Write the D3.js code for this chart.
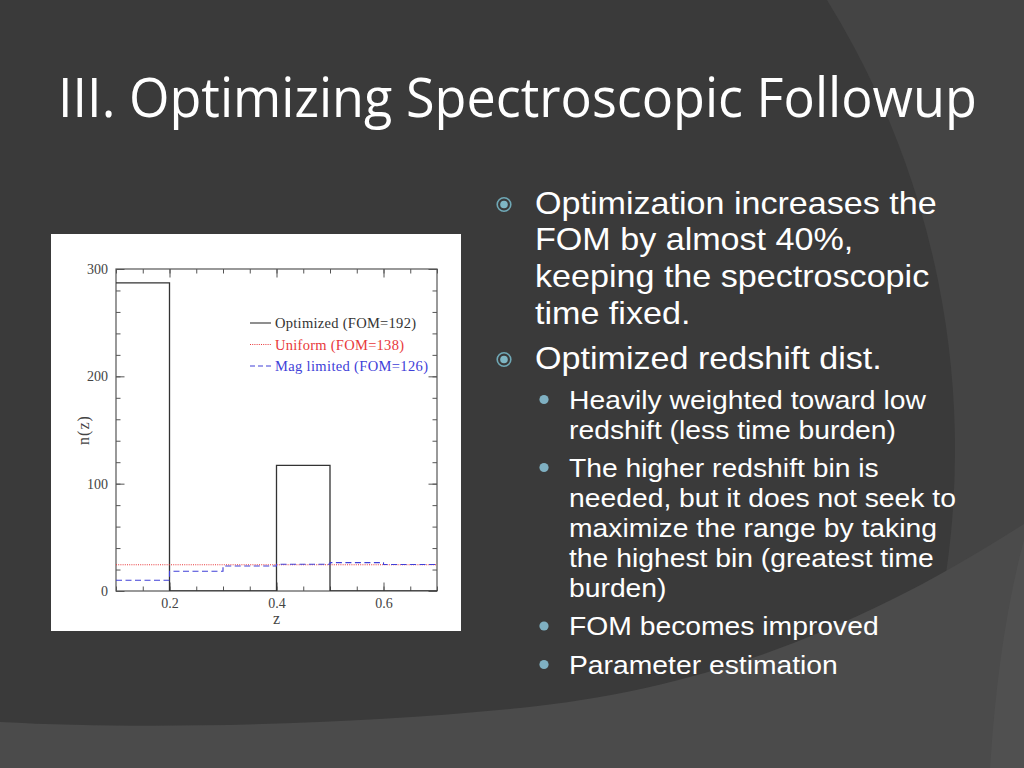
<!DOCTYPE html>
<html>
<head>
<meta charset="utf-8">
<script src="https://cdn.jsdelivr.net/npm/d3@7"></script>
<style>
  html, body { margin: 0; padding: 0; background: #3b3b3b; }
  svg { display: block; }
</style>
</head>
<body>
<svg id="slide" width="1024" height="768"></svg>
<script>
// ---------------- DATA ----------------
const binEdges   = [0.1, 0.2, 0.3, 0.4, 0.5, 0.6, 0.7];
const optimized  = [287, 0, 0, 117, 0, 0];
const uniform    = [24.5, 24.5, 24.5, 24.5, 24.5, 24.5];
const magLimited = [10, 18.4, 23.3, 24.9, 26.4, 24.7];

const xMajorTicks = [0.2, 0.4, 0.6];
const xMinorTicks = [0.1, 0.15, 0.2, 0.25, 0.3, 0.35, 0.4, 0.45, 0.5, 0.55, 0.6, 0.65, 0.7];
const yMajorTicks = [0, 100, 200, 300];
const yMinorTicks = [0, 20, 40, 60, 80, 100, 120, 140, 160, 180, 200, 220, 240, 260, 280, 300];

const legendLabels = ["Optimized (FOM=192)", "Uniform (FOM=138)", "Mag limited (FOM=126)"];

const titleText = "III. Optimizing Spectroscopic Followup";
const bullets = [
  { level: 1, lines: ["Optimization increases the", "FOM by almost 40%,", "keeping the spectroscopic", "time fixed."] },
  { level: 1, lines: ["Optimized redshift dist."] },
  { level: 2, lines: ["Heavily weighted toward low", "redshift (less time burden)"] },
  { level: 2, lines: ["The higher redshift bin is", "needed, but it does not seek to", "maximize the range by taking", "the highest bin (greatest time", "burden)"] },
  { level: 2, lines: ["FOM becomes improved"] },
  { level: 2, lines: ["Parameter estimation"] }
];

// ---------------- SLIDE BACKGROUND ----------------
const svg = d3.select("#slide");
svg.append("rect").attr("width", 1024).attr("height", 768).attr("fill", "#444444");
svg.append("circle").attr("cx", 100).attr("cy", 450).attr("r", 855).attr("fill", "#3a3a3a");
svg.append("path")
  .attr("d", "M0,722 C150,730 350,725 520,708 C700,690 860,630 1024,524 L1024,768 L0,768 Z")
  .attr("fill", "#4b4b4b");
svg.append("path")
  .attr("d", "M1024,540 C1005,610 995,690 990,768 L1024,768 Z")
  .attr("fill", "#505050");

// ---------------- TITLE ----------------
const title = svg.append("text")
  .attr("font-family", "'Open Sans', 'Noto Sans', sans-serif")
  .attr("font-size", 55)
  .attr("fill", "#ffffff")
  .text(titleText);
const tLen = title.node().getComputedTextLength();
title.attr("transform", `translate(58,117) scale(${919 / tLen},1)`);

// ---------------- BULLET TEXT ----------------
const lvl = {
  1: { x: 535, size: 31, lh: 36.7, sx: 1.10, bx: 504, by: -9 },
  2: { x: 569, size: 25.5, lh: 30, sx: 1.11, bx: 544, by: -9 }
};
const startBaselines = [213.5, 368.5, 408.5, 476.5, 635, 673.5];
const textG = svg.append("g");
bullets.forEach((b, i) => {
  const L = lvl[b.level];
  const y0 = startBaselines[i];
  if (b.level === 1) {
    textG.append("circle").attr("cx", L.bx).attr("cy", y0 + L.by)
      .attr("r", 6.8).attr("fill", "none").attr("stroke", "#6fa8b6").attr("stroke-width", 1.6);
    textG.append("circle").attr("cx", L.bx).attr("cy", y0 + L.by)
      .attr("r", 3.8).attr("fill", "#7fb6c4");
  } else {
    textG.append("circle").attr("cx", L.bx).attr("cy", y0 + L.by)
      .attr("r", 4.6).attr("fill", "#7fb0c2");
  }
  b.lines.forEach((line, j) => {
    textG.append("text")
      .attr("transform", `translate(${L.x},${y0 + j * L.lh}) scale(${L.sx},1)`)
      .attr("font-family", "'Liberation Sans', Arial, sans-serif")
      .attr("font-size", L.size)
      .attr("fill", "#ffffff")
      .text(line);
  });
});

// ---------------- CHART ----------------
const chart = svg.append("g");
chart.append("rect").attr("x", 51).attr("y", 234).attr("width", 410).attr("height", 397).attr("fill", "#ffffff");

const plot = { left: 116, right: 437, top: 269, bottom: 591 };
const x = d3.scaleLinear().domain([0.1, 0.7]).range([plot.left, plot.right]);
const y = d3.scaleLinear().domain([0, 300]).range([plot.bottom, plot.top]);

const axisColor = "#555";
const tickFont = "'Liberation Serif', 'DejaVu Serif', serif";

function styleAxis(g) {
  g.select(".domain").remove();
  g.selectAll(".tick line").attr("stroke", axisColor).attr("stroke-width", 1);
}
// minor ticks (all four sides)
chart.append("g").attr("transform", `translate(0,${plot.bottom})`)
  .call(d3.axisBottom(x).tickValues(xMinorTicks).tickSize(-4.5).tickFormat("")).call(styleAxis);
chart.append("g").attr("transform", `translate(0,${plot.top})`)
  .call(d3.axisTop(x).tickValues(xMinorTicks).tickSize(-4.5).tickFormat("")).call(styleAxis);
chart.append("g").attr("transform", `translate(${plot.left},0)`)
  .call(d3.axisLeft(y).tickValues(yMinorTicks).tickSize(-4.5).tickFormat("")).call(styleAxis);
chart.append("g").attr("transform", `translate(${plot.right},0)`)
  .call(d3.axisRight(y).tickValues(yMinorTicks).tickSize(-4.5).tickFormat("")).call(styleAxis);
// major ticks
const xb = chart.append("g").attr("transform", `translate(0,${plot.bottom})`)
  .call(d3.axisBottom(x).tickValues(xMajorTicks).tickSize(-8.5).tickPadding(7).tickFormat(d3.format(".1f")))
  .call(styleAxis);
chart.append("g").attr("transform", `translate(0,${plot.top})`)
  .call(d3.axisTop(x).tickValues(xMajorTicks).tickSize(-8.5).tickFormat("")).call(styleAxis);
const yl = chart.append("g").attr("transform", `translate(${plot.left},0)`)
  .call(d3.axisLeft(y).tickValues(yMajorTicks).tickSize(-8.5).tickPadding(8).tickFormat(d3.format("d")))
  .call(styleAxis);
chart.append("g").attr("transform", `translate(${plot.right},0)`)
  .call(d3.axisRight(y).tickValues(yMajorTicks).tickSize(-8.5).tickFormat("")).call(styleAxis);

[xb, yl].forEach(g => g.selectAll(".tick text")
  .attr("font-family", tickFont).attr("font-size", 14).attr("fill", "#444"));

// frame
chart.append("rect")
  .attr("x", plot.left).attr("y", plot.top)
  .attr("width", plot.right - plot.left).attr("height", plot.bottom - plot.top)
  .attr("fill", "none").attr("stroke", axisColor).attr("stroke-width", 1.2);

// axis titles
chart.append("text").attr("x", x(0.4)).attr("y", 624)
  .attr("text-anchor", "middle").attr("font-family", tickFont).attr("font-size", 16).attr("fill", "#444")
  .text("z");
chart.append("text")
  .attr("transform", `translate(89,${y(150)}) rotate(-90)`)
  .attr("text-anchor", "middle").attr("font-family", tickFont).attr("font-size", 16).attr("fill", "#444")
  .attr("letter-spacing", 1)
  .text("n(z)");

// histogram step lines
function stepPoints(vals) {
  const pts = vals.map((v, i) => [binEdges[i], v]);
  pts.push([binEdges[binEdges.length - 1], vals[vals.length - 1]]);
  return pts;
}
const stepLine = d3.line().x(d => x(d[0])).y(d => y(d[1])).curve(d3.curveStepAfter);

const clipId = "plotclip";
svg.append("defs").append("clipPath").attr("id", clipId)
  .append("rect").attr("x", plot.left).attr("y", plot.top - 1)
  .attr("width", plot.right - plot.left).attr("height", plot.bottom - plot.top + 1);

const series = chart.append("g").attr("clip-path", `url(#${clipId})`);
series.append("path")
  .attr("d", stepLine(stepPoints(optimized)))
  .attr("fill", "none").attr("stroke", "#333").attr("stroke-width", 1.3);
series.append("path")
  .attr("d", stepLine(stepPoints(uniform)))
  .attr("fill", "none").attr("stroke", "#e8383b").attr("stroke-width", 1.1)
  .attr("stroke-dasharray", "1,1.2");
series.append("path")
  .attr("d", stepLine(stepPoints(magLimited)))
  .attr("fill", "none").attr("stroke", "#4040d8").attr("stroke-width", 1.1)
  .attr("stroke-dasharray", "6,3.5");

// legend
const legendColors = ["#333", "#e8383b", "#4040d8"];
const legendDash = [null, "1,1.2", "5,3"];
const legendWidths = [141, 129, 153];
const legendY = [323, 344.5, 366];
legendLabels.forEach((lab, i) => {
  chart.append("line")
    .attr("x1", 250).attr("x2", 271).attr("y1", legendY[i]).attr("y2", legendY[i])
    .attr("stroke", legendColors[i]).attr("stroke-width", 1.1)
    .attr("stroke-dasharray", legendDash[i]);
  chart.append("text")
    .attr("x", 275).attr("y", legendY[i] + 5)
    .attr("font-family", tickFont).attr("font-size", 14.5)
    .attr("fill", legendColors[i])
    .attr("textLength", legendWidths[i]).attr("lengthAdjust", "spacing")
    .text(lab);
});
</script>
</body>
</html>
